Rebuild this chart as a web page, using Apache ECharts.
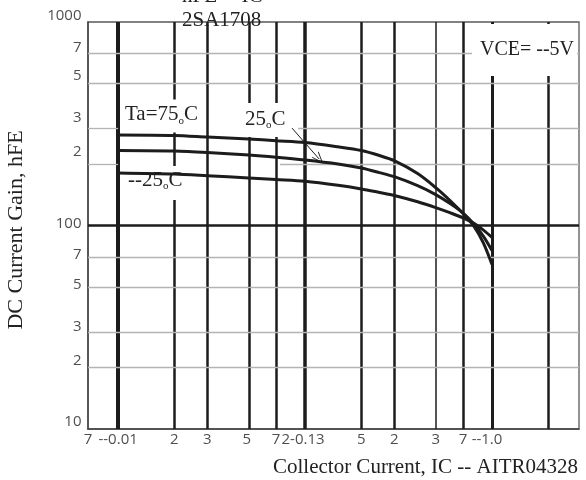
<!DOCTYPE html>
<html><head><meta charset="utf-8">
<script src="https://cdn.jsdelivr.net/npm/echarts@6/dist/echarts.min.js"></script>
<style>html,body{margin:0;padding:0;background:#fff}#c{width:586px;height:480px}</style>
</head><body><div id="c"></div>
<script>
// ---------------- data ----------------
const X_MIN = 0.0069, X_MAX = 2.92, Y_MIN = 10, Y_MAX = 1000;
const icValues  = [0.01, 0.02, 0.03, 0.05, 0.07, 0.1, 0.15, 0.2, 0.25, 0.3, 0.4, 0.5, 0.6, 0.7, 0.8, 0.9, 1.0];
const hfeTa75   = [278.5, 277, 272, 266, 261, 255.8, 243.7, 233.7, 220.8, 208.2, 179.9, 153.4, 131.9, 114.5, 99.4, 81.9, 64.3];
const hfeTa25   = [233.7, 232.3, 228.5, 222, 216.6, 209.9, 200.6, 191.7, 182, 173.7, 157, 141.9, 127.8, 115.1, 101.7, 88.4, 75.3];
const hfeTaM25  = [181.1, 179, 175.7, 171.2, 168.3, 165.1, 157.8, 151.3, 145.3, 140.4, 130.8, 122.5, 115.3, 109, 102.4, 94.9, 87.4];

const xGridValues = [0.01, 0.02, 0.03, 0.05, 0.07, 0.1, 0.2, 0.3, 0.5, 0.7, 1.0, 2.0];
const yGridMinor  = [20, 30, 50, 70, 200, 300, 500, 700];
const yGridMajor  = [100];

const xTickValues = [0.0069, 0.01, 0.02, 0.03, 0.05, 0.07, 0.1, 0.2, 0.3, 0.5, 0.7, 1.0];
const xTickLabels = ['7', '--0.01', '2', '3', '5', '7', '2-0.13', '5', '2', '3', '7', '--1.0'];
const yTickValues = [1000, 700, 500, 300, 200, 100, 70, 50, 30, 20, 10];
const yTickLabels = ['1000', '7', '5', '3', '2', '100', '7', '5', '3', '2', '10'];

const arrowFrom = [0.0852, 301];
const arrowTo   = [0.119, 212];

// ---------------- styles / layout ----------------
const xGridWidths = [4, 2.5, 2.5, 2.5, 2.5, 3.5, 2.5, 2.5, 1.5, 2.5, 3, 2.5];
const yLabelDy = [-6, -6, -8, -11, -13, -2, -2.5, -2, -5.5, -7.5, -7.5];
const xLabelDx = [0, 0, 0, 0, -2, 0, -2, 0, 0, 0, 0, -5];
// horizontal minor lines that are partly blank in the original
const hGridSpans = { 200: [[X_MIN, 0.01], [0.0734, X_MAX]], 300: [[X_MIN, 0.01], [0.0918, X_MAX]] };
const SERIF = '"Liberation Serif", "Times New Roman", serif';
const SANS = '"Open Sans", "Noto Sans", sans-serif';
const INK = '#1c1c1c';

const gridLines = [];
xGridValues.forEach((v, i) => gridLines.push([
  { coord: [v, Y_MIN], lineStyle: { width: xGridWidths[i], color: INK, type: 'solid' } },
  { coord: [v, Y_MAX] }
]));
yGridMinor.forEach(v => {
  const spans = hGridSpans[v] || [[X_MIN, X_MAX]];
  spans.forEach(s => gridLines.push([
    { coord: [s[0], v], lineStyle: { width: 1.3, color: '#b4b4b4', type: 'solid' } },
    { coord: [s[1], v] }
  ]));
});
yGridMajor.forEach(v => gridLines.push([
  { coord: [X_MIN, v], lineStyle: { width: 2.5, color: INK, type: 'solid' } },
  { coord: [X_MAX, v] }
]));

const curve = (ys) => icValues.map((x, i) => [x, ys[i]]);
const curveSeries = (name, ys) => ({
  name, type: 'line', data: curve(ys), smooth: 0.3, showSymbol: false, z: 5,
  lineStyle: { width: 3, color: INK }, silent: true
});

const degRich = {
  a: { fontFamily: SERIF, fontSize: 21, color: '#222', lineHeight: 24 },
  o: { fontFamily: SERIF, fontSize: 11, color: '#222', verticalAlign: 'bottom', lineHeight: 11 }
};
const noteText = (text, x, y, pad) => ({
  type: 'text', x, y, z: 3, silent: true,
  style: {
    text, rich: degRich, font: '21px ' + SERIF, fill: '#222',
    align: 'left', verticalAlign: 'middle',
    backgroundColor: '#fff', padding: pad
  }
});

const chart = echarts.init(document.getElementById('c'));
chart.setOption({
  animation: false,
  backgroundColor: '#fff',
  grid: { left: 88, right: 7, top: 22, bottom: 51, show: true, borderColor: '#5a5a5a', borderWidth: 1.3 },
  xAxis: {
    type: 'log', logBase: 10, min: X_MIN, max: X_MAX,
    axisLine: { show: true, lineStyle: { color: '#444', width: 1.5 } },
    axisTick: { show: false }, axisLabel: { show: false }, splitLine: { show: false }, minorSplitLine: { show: false }
  },
  yAxis: {
    type: 'log', logBase: 10, min: Y_MIN, max: Y_MAX,
    axisLine: { show: true, lineStyle: { color: '#444', width: 1.5 } },
    axisTick: { show: false }, axisLabel: { show: false }, splitLine: { show: false }
  },
  series: [
    {
      name: 'grid', type: 'line', data: [], z: 1, silent: true,
      markLine: { silent: true, symbol: 'none', animation: false, z: 1, label: { show: false },
        lineStyle: { type: 'solid' }, data: gridLines }
    },
    curveSeries('Ta=75°C', hfeTa75),
    curveSeries('25°C', hfeTa25),
    curveSeries('--25°C', hfeTaM25),
    {
      name: 'arrow', type: 'line', data: [], z: 6, silent: true,
      markLine: {
        silent: true, animation: false, z: 6,
        symbol: ['none', 'path://M0,10L5,0L10,10L9,10L5,2L1,10Z'], symbolSize: [9, 12],
        label: { show: false },
        lineStyle: { color: INK, width: 1, type: 'solid', curveness: 0.2 },
        data: [[{ coord: arrowFrom }, { coord: arrowTo }]]
      }
    },
    {
      name: 'xTicks', type: 'scatter', clip: false, silent: true, z: 6,
      symbolSize: 1, itemStyle: { color: 'transparent' },
      data: xTickValues.map((v, i) => ({ value: [v, Y_MIN], label: { offset: [xLabelDx[i], 0] } })),
      label: { show: true, position: 'bottom', distance: 3, fontFamily: SANS, fontSize: 15, color: '#222',
        formatter: p => xTickLabels[p.dataIndex] }
    },
    {
      name: 'yTicks', type: 'scatter', clip: false, silent: true, z: 6,
      symbolSize: 1, itemStyle: { color: 'transparent' },
      data: yTickValues.map((v, i) => ({ value: [X_MIN, v], label: { offset: [0, yLabelDy[i]] } })),
      label: { show: true, position: 'left', distance: 6, fontFamily: SANS, fontSize: 15, color: '#222',
        formatter: p => yTickLabels[p.dataIndex] }
    }
  ],
  graphic: [
    { type: 'text', x: 182, y: -4, z: 3, silent: true,
      style: { text: 'hFE -- IC', font: '21px ' + SERIF, fill: '#222', align: 'left', verticalAlign: 'middle' } },
    { type: 'text', x: 182, y: 20, z: 3, silent: true,
      style: { text: '2SA1708', font: '21px ' + SERIF, fill: '#222', align: 'left', verticalAlign: 'middle' } },
    noteText('{a|Ta=75}{o|o}{a|C}', 123, 116, [3, 0, 6, 2]),
    noteText('{a|25}{o|o}{a|C}', 241, 120, [4, 2, 6, 4]),
    noteText('{a|--25}{o|o}{a|C}', 126, 183, [2, 2, 8, 2]),
    { type: 'text', x: 472, y: 50, z: 3, silent: true,
      style: { text: 'VCE= --5V', font: '20px ' + SERIF, fill: '#222', align: 'left', verticalAlign: 'middle',
        backgroundColor: '#fff', padding: [15, 3, 17, 8] } },
    { type: 'text', x: 16, y: 230, rotation: Math.PI / 2, z: 3, silent: true,
      style: { text: 'DC Current Gain, hFE', font: '22px ' + SERIF, fill: '#222', align: 'center', verticalAlign: 'middle' } },
    { type: 'text', x: 578, y: 467, z: 3, silent: true,
      style: { text: 'Collector Current, IC -- AITR04328', font: '21px ' + SERIF, fill: '#222', align: 'right', verticalAlign: 'middle' } }
  ]
});
</script></body></html>
